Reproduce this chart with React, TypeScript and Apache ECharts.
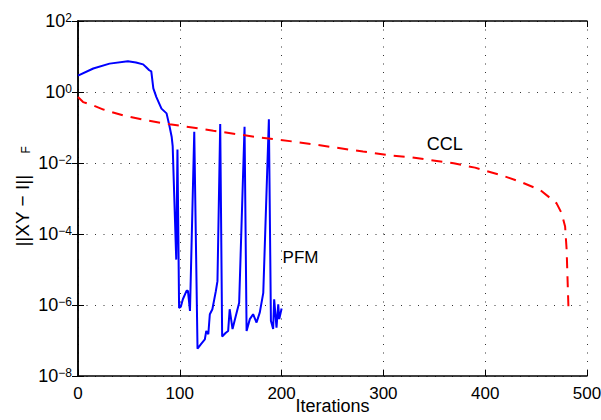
import React, { useEffect, useRef } from "react";
import * as echarts from "echarts";

const FONT = "'Liberation Sans', Arial, Helvetica, sans-serif";

// PFM (blue, solid)
const pfmIter = [
  0, 15, 31, 49, 57, 64, 67, 70, 72, 74, 77, 82, 87, 90, 92, 93, 96.5, 97.7, 99.3, 101, 103, 106.6, 108, 110,
  114.2, 117.4, 121, 124.6, 126, 128, 129.5, 132, 135.4, 137, 139.7, 141.6, 145.2, 147.5, 149, 151.8, 155,
  158.3, 163.6, 165.6, 168.8, 172, 175.4, 178.6, 182, 187.5, 189.5, 191.7, 192.7, 195, 196.7, 197.7, 200,
];
const pfmErr = [
  2.9, 4.6, 6.3, 7.4, 6.8, 6.0, 5.0, 4.1, 3.8, 1.26, 0.72, 0.34, 0.25, 0.105, 0.055, 0.03, 1.9e-5, 0.024, 8.3e-7,
  9e-7, 1.45e-6, 2.5e-6, 2.5e-6, 6.8e-7, 0.076, 5.9e-8, 8e-8, 1.07e-7, 1.86e-7, 1.5e-7, 5.5e-7, 7.6e-7, 2.45e-6,
  4.7e-6, 0.126, 1.3e-7, 1.66e-7, 1.86e-7, 7.6e-7, 2.1e-7, 4.9e-7, 1.15e-6, 0.105, 1.86e-7, 4e-7, 5.5e-7, 3.2e-7,
  6.2e-7, 2.2e-6, 0.17, 3.6e-7, 2.1e-7, 1.45e-6, 2.3e-7, 1.05e-6, 4e-7, 8e-7,
];

// CCL (red, dashed)
const cclIter = [
  0, 5, 15, 25, 44, 67, 90, 120, 133, 156, 179, 195, 215, 250, 280, 310, 324, 340, 369, 390, 398, 415, 434, 454,
  470, 475, 478.5, 480, 481, 482,
];
const cclErr = [
  0.72, 0.52, 0.42, 0.32, 0.22, 0.16, 0.123, 0.093, 0.081, 0.065, 0.052, 0.046, 0.039, 0.028, 0.021, 0.016,
  0.0148, 0.0128, 0.0098, 0.0074, 0.0063, 0.0046, 0.003, 0.00174, 0.00074, 0.00039, 0.000162, 3.6e-5, 4.3e-6,
  5.5e-7,
];

// axis ranges / ticks
const xMin = 0;
const xMax = 500;
const xStep = 100;
const yMin = 1e-8;
const yMax = 1e2;
const yStepDecades = 2;

// annotations
const pfmLabel = { text: "PFM", x: 201, y: 2.2e-5 };
const cclLabel = { text: "CCL", x: 342.6, y: 0.035 };

const supFormatter = (v: number) => {
  const e = Math.round(Math.log10(v));
  const s = e < 0 ? "\u2212" + Math.abs(e) : String(e);
  return "{b|10}{s|" + s + "}";
};

export default function App() {
  const ref = useRef<HTMLDivElement>(null);
  useEffect(() => {
    if (!ref.current) return;
    const chart = echarts.init(ref.current, undefined, { renderer: "svg" });
    const gridLine = { show: true, lineStyle: { color: "#333", width: 1, type: [1, 7.5] as any } };
    const axisLine = { show: true, lineStyle: { color: "#000", width: 1.5 } };
    const tick = { show: true, inside: true, length: 6, lineStyle: { color: "#000", width: 1 } };
    chart.setOption({
      animation: false,
      backgroundColor: "#fff",
      textStyle: { fontFamily: FONT },
      grid: { left: 78, right: 14, top: 21, bottom: 44, containLabel: false, outerBoundsMode: "none" },
      xAxis: [
        {
          type: "value",
          min: xMin,
          max: xMax,
          interval: xStep,
          position: "bottom",
          axisLine,
          axisTick: tick,
          splitLine: gridLine,
          axisLabel: { fontSize: 17, color: "#000", margin: 9, fontFamily: FONT },
          name: "Iterations",
          nameLocation: "middle",
          nameGap: 21,
          nameMoveOverlap: false,
          nameTextStyle: { fontSize: 18, color: "#000", fontFamily: FONT, verticalAlign: "top", lineHeight: 18 },
        },
        {
          type: "value",
          min: xMin,
          max: xMax,
          interval: xStep,
          position: "top",
          axisLine,
          axisTick: tick,
          splitLine: { show: false },
          axisLabel: { show: false },
        },
      ],
      yAxis: [
        {
          type: "log",
          logBase: 10,
          min: yMin,
          max: yMax,
          interval: yStepDecades,
          position: "left",
          axisLine,
          axisTick: tick,
          minorTick: { show: false },
          splitLine: gridLine,
          axisLabel: {
            margin: 6,
            color: "#000",
            formatter: supFormatter,
            rich: {
              b: { fontSize: 18, fontFamily: FONT, color: "#000", padding: [6, 0, 6, 0], lineHeight: 18 },
              s: { fontSize: 12, fontFamily: FONT, color: "#000", verticalAlign: "top", lineHeight: 12 },
            },
          },
          name: "{n|||XY \u2212 I||    }{f|F}",
          nameLocation: "middle",
          nameGap: 46,
          nameRotate: 90,
          nameMoveOverlap: false,
          nameTextStyle: {
            rich: {
              n: { fontSize: 19, fontFamily: FONT, color: "#000", lineHeight: 19, padding: [0, 0, 0, 4] },
              f: { fontSize: 12, fontFamily: FONT, color: "#000", verticalAlign: "bottom", lineHeight: 12, padding: [14, 0, 0, 0] },
            },
          },
        },
        {
          type: "log",
          logBase: 10,
          min: yMin,
          max: yMax,
          interval: yStepDecades,
          position: "right",
          axisLine,
          axisTick: tick,
          splitLine: { show: false },
          axisLabel: { show: false },
        },
      ],
      series: [
        {
          name: "PFM",
          type: "line",
          data: pfmIter.map((x, i) => [x, pfmErr[i]]),
          showSymbol: false,
          symbol: "none",
          lineStyle: { color: "#0000ff", width: 2 },
          itemStyle: { color: "#0000ff" },
          markPoint: {
            symbol: "circle",
            symbolSize: 0,
            data: [
              {
                coord: [pfmLabel.x, pfmLabel.y],
                label: { show: true, position: "right", distance: 0, formatter: pfmLabel.text, fontSize: 17, color: "#000", fontFamily: FONT },
              },
            ],
          },
        },
        {
          name: "CCL",
          type: "line",
          data: cclIter.map((x, i) => [x, cclErr[i]]),
          showSymbol: false,
          symbol: "none",
          lineStyle: { color: "#ff0000", width: 2, type: [11, 8] as any },
          itemStyle: { color: "#ff0000" },
          markPoint: {
            symbol: "circle",
            symbolSize: 0,
            data: [
              {
                coord: [cclLabel.x, cclLabel.y],
                label: { show: true, position: "right", distance: 0, formatter: cclLabel.text, fontSize: 18, color: "#000", fontFamily: FONT },
              },
            ],
          },
        },
      ],
    });
    return () => chart.dispose();
  }, []);
  return <div ref={ref} style={{ width: 601, height: 420, position: "absolute", left: 0, top: 0 }} />;
}
